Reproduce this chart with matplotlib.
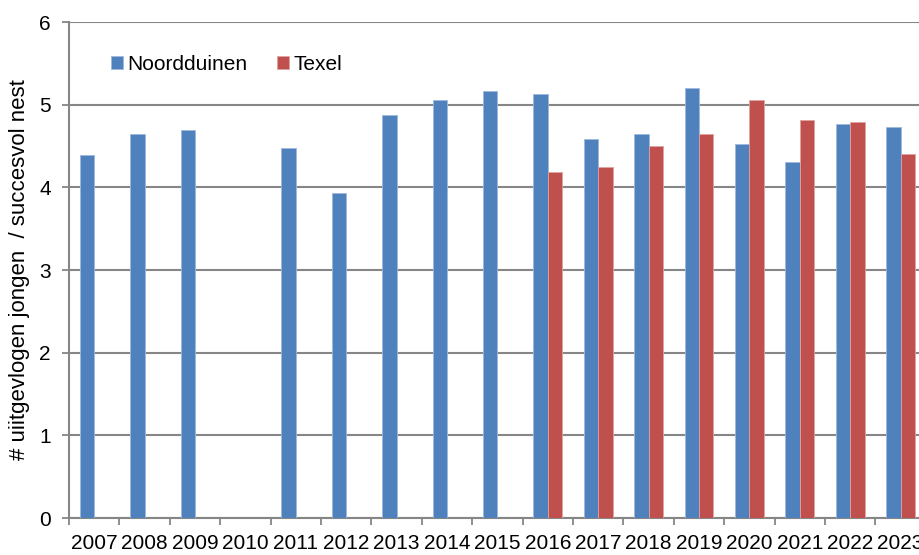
import matplotlib
matplotlib.use("Agg")
import matplotlib.pyplot as plt
import numpy as np

years = ["2007", "2008", "2009", "2010", "2011", "2012", "2013", "2014", "2015",
         "2016", "2017", "2018", "2019", "2020", "2021", "2022", "2023"]
noordduinen = [4.39, 4.64, 4.69, np.nan, 4.48, 3.93, 4.88, 5.06, 5.17,
               5.13, 4.58, 4.65, 5.20, 4.53, 4.31, 4.77, 4.73]
texel = [np.nan, np.nan, np.nan, np.nan, np.nan, np.nan, np.nan, np.nan, np.nan,
         4.19, 4.24, 4.50, 4.64, 5.06, 4.81, 4.79, 4.40]
series_names = ["Noordduinen", "Texel"]
yticks = [0, 1, 2, 3, 4, 5, 6]

plt.rcParams['font.family'] = ['Liberation Sans', 'DejaVu Sans']
FS = 15

fig = plt.figure(figsize=(9.2, 5.55), dpi=100)
W, H = 920, 555
left_px, right_px, top_px, bot_px = 69, 69 + 17 * 50.4, 22, 518
ax = fig.add_axes([left_px / W, 1 - bot_px / H, (right_px - left_px) / W, (bot_px - top_px) / H])

x = np.arange(len(years))
w = 1 / 3.5
blue = '#4F81BD'
red = '#C0504D'
ax.bar(x - w / 2, noordduinen, width=w, color=blue, edgecolor='#9DB9DD', linewidth=0.6,
       label=series_names[0], zorder=3)
ax.bar(x + w / 2, texel, width=w, color=red, edgecolor='#E0A3A1', linewidth=0.6,
       label=series_names[1], zorder=3)

ax.set_xlim(-0.5, len(years) - 0.5)
ax.set_ylim(0, 6)
ax.set_yticks(yticks)
ax.set_yticklabels([str(v) for v in yticks], fontsize=FS)
ax.yaxis.grid(True, color='#868686', linewidth=1.5, zorder=0)
ax.set_axisbelow(True)

ax.set_xticks(np.arange(-0.5, len(years) + 0.5, 1), minor=False)
ax.set_xticklabels([])
ax.set_xticks(x, minor=True)
ax.set_xticklabels(years, minor=True, fontsize=FS)
ax.tick_params(axis='x', which='major', direction='out', length=5, width=1.3, color='#868686')
ax.tick_params(axis='x', which='minor', length=0, pad=11.5)
ax.tick_params(axis='y', direction='out', length=5, width=1.3, color='#868686', pad=8)

for s in ['top', 'right']:
    ax.spines[s].set_visible(False)
for s in ['left', 'bottom']:
    ax.spines[s].set_color('#868686')
    ax.spines[s].set_linewidth(1.5)

ax.set_ylabel('# uiitgevlogen jongen  / succesvol nest', fontsize=16)
ax.yaxis.set_label_coords((30 - left_px) / (right_px - left_px), 0.5)

leg = ax.legend(loc='center left', bbox_to_anchor=((111 - left_px) / (right_px - left_px),
                (bot_px - 64) / (bot_px - top_px)),
                ncol=2, frameon=False, fontsize=FS, handlelength=0.6, handleheight=0.6,
                handletextpad=0.2, columnspacing=1.4, borderpad=0, borderaxespad=0)

fig.savefig('out.png', dpi=100)
